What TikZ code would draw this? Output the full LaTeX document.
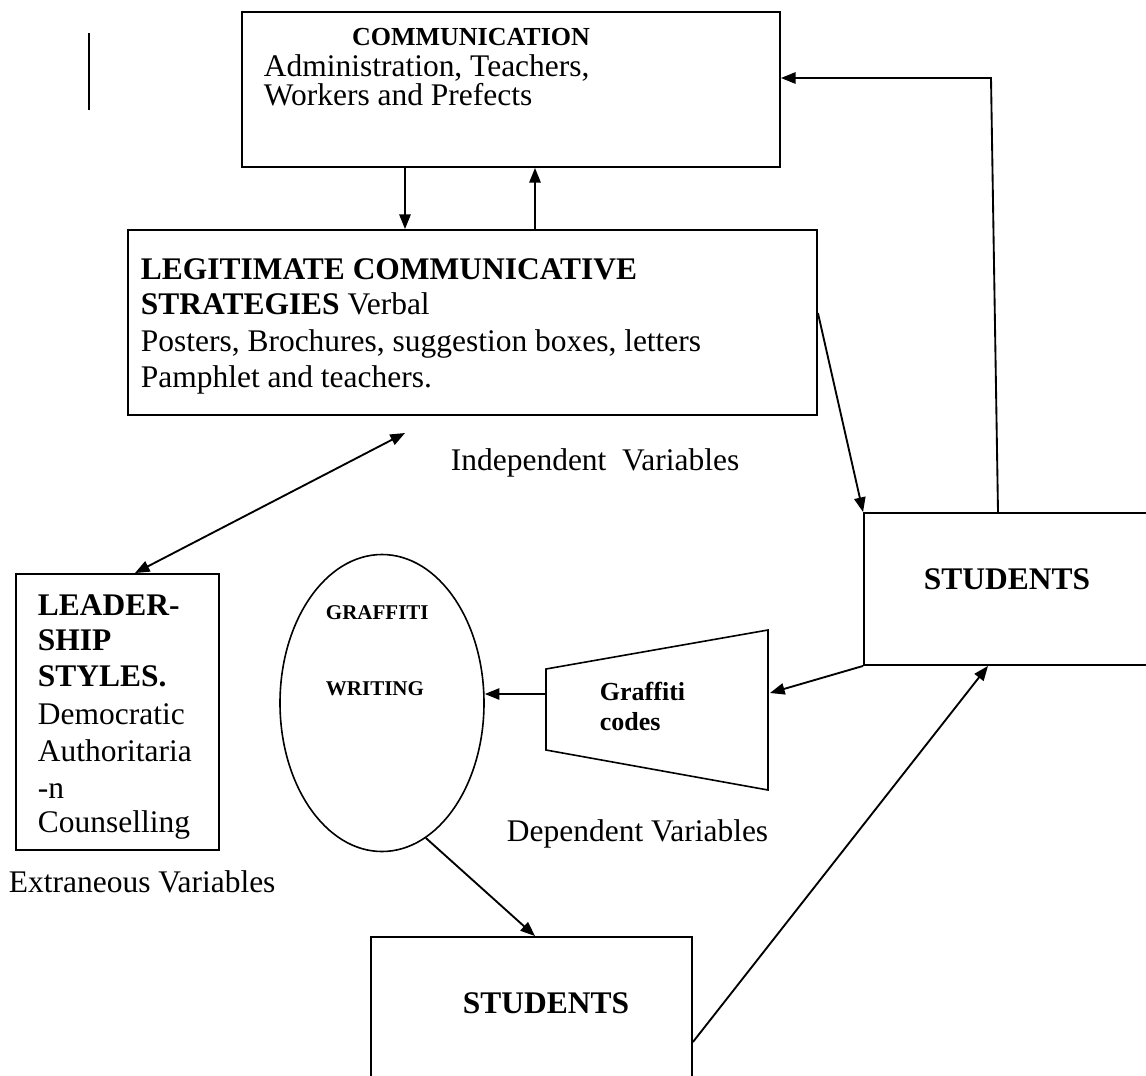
\documentclass[tikz,border=0pt]{standalone}
\usepackage{fontspec}
\setmainfont{Liberation Serif}
\usetikzlibrary{arrows.meta,shapes.geometric,fit,calc}
\begin{document}
\begin{tikzpicture}[x=0.75pt,y=-0.75pt,
  line width=1.4pt,
  tip/.style={-{Triangle[length=11pt,width=8.5pt]}},
  dtip/.style={{Triangle[length=11pt,width=8.5pt]}-{Triangle[length=11pt,width=8.5pt]}},
  box/.style={draw,inner sep=0pt,line width=1.4pt},
  txt/.style={inner sep=0pt,anchor=base west,font=\fontsize{23.6}{28}\selectfont},
  btxt/.style={inner sep=0pt,anchor=base west,font=\fontsize{23.6}{28}\selectfont\bfseries},
]
\useasboundingbox (0,0) rectangle (1146,1075);
\clip (0,0) rectangle (1146,1075);
\fill[white] (0,0) rectangle (1146,1075);

% stray vertical line
\draw (89,33) -- (89,110);

% boxes
\coordinate (c1a) at (242,12);  \coordinate (c1b) at (780,167);
\node[box,fit=(c1a)(c1b)] (comm) {};
\coordinate (c2a) at (128,230); \coordinate (c2b) at (817,415);
\node[box,fit=(c2a)(c2b)] (legit) {};
\coordinate (c3a) at (16,574);  \coordinate (c3b) at (219,850);
\node[box,fit=(c3a)(c3b)] (lead) {};
\coordinate (c4a) at (864,513); \coordinate (c4b) at (1165,665);
\node[box,fit=(c4a)(c4b)] (stud) {};
\coordinate (c5a) at (371,937); \coordinate (c5b) at (692,1095);
\node[box,fit=(c5a)(c5b)] (studb) {};
\node[draw,ellipse,inner sep=0pt,line width=1.2pt,minimum width=153pt,minimum height=222.75pt] (ell) at (382,703) {};
% trapezoid
\coordinate (tA) at (546,669); \coordinate (tB) at (768,630);
\coordinate (tC) at (768,790); \coordinate (tD) at (546,750);
\draw[line width=1.2pt] (tA) -- (tB) -- (tC) -- (tD) -- cycle;

% texts
\node[inner sep=0pt,anchor=base,font=\fontsize{19.5}{23}\selectfont\bfseries] (commT) at (471,45) {COMMUNICATION};
\node[txt] (commA) at (263,76) {Administration, Teachers,};
\node[txt] (commB) at (263,105) {Workers and Prefects};

\node[btxt] (lg1) at (140,279) {LEGITIMATE COMMUNICATIVE};
\node[txt] (lg2) at (140,314) {\textbf{STRATEGIES} Verbal};
\node[txt] (lg3) at (140,351) {Posters, Brochures, suggestion boxes, letters};
\node[txt] (lg4) at (140,387) {Pamphlet and teachers.};

\node[txt] (indep) at (450,470) {Independent\ \ Variables};

\node[btxt] (ld1) at (37,615) {LEADER-};
\node[btxt] (ld2) at (37,650) {SHIP};
\node[btxt] (ld3) at (37,686) {STYLES.};
\node[txt] (ld4) at (37,724) {Democratic};
\node[txt] (ld5) at (37,761) {Authoritaria};
\node[txt] (ld6) at (37,798) {-n};
\node[txt] (ld7) at (37,832) {Counselling};

\node[txt] (extr) at (8,892) {Extraneous Variables};

\node[inner sep=0pt,anchor=base west,font=\fontsize{15.75}{19}\selectfont\bfseries] (gr1) at (325,619) {GRAFFITI};
\node[inner sep=0pt,anchor=base west,font=\fontsize{15.75}{19}\selectfont\bfseries] (gr2) at (325,695) {WRITING};

\node[inner sep=0pt,anchor=base west,font=\fontsize{19.5}{23}\selectfont\bfseries] (gc1) at (599,700) {Graffiti};
\node[inner sep=0pt,anchor=base west,font=\fontsize{19.5}{23}\selectfont\bfseries] (gc2) at (599,730) {codes};

\node[btxt,anchor=center] (st1) at (1007,579) {STUDENTS};
\node[btxt,anchor=center] (st2) at (546,1003) {STUDENTS};

\node[txt] (dep) at (506,841) {Dependent Variables};

% connectors
\draw[tip] (comm.south -| 405,0) -- (legit.north -| 405,0);
\draw[tip] (legit.north -| 535,0) -- (comm.south -| 535,0);
\coordinate (up1) at (991,78);
\draw[tip] (stud.north -| 998,0) -- (up1) -- (comm.east |- up1);
\draw[tip] (legit.east |- 0,313) -- (stud.north west);
\coordinate (dA) at (405,433);
\draw[dtip] (dA) -- ($(lead.north west)!0.585!(lead.north east)$);
\coordinate (tR) at (770,693);
\draw[tip] (stud.south west) -- (tR);
\coordinate (tL) at (546,694);
\draw[tip] (tL) -- (ell.east |- tL);
\draw[tip] (ell.-72) -- (studb.north -| 535,0);
\draw[tip] (studb.east |- 0,1042) -- (stud.south -| 988,0);
\end{tikzpicture}
\end{document}
